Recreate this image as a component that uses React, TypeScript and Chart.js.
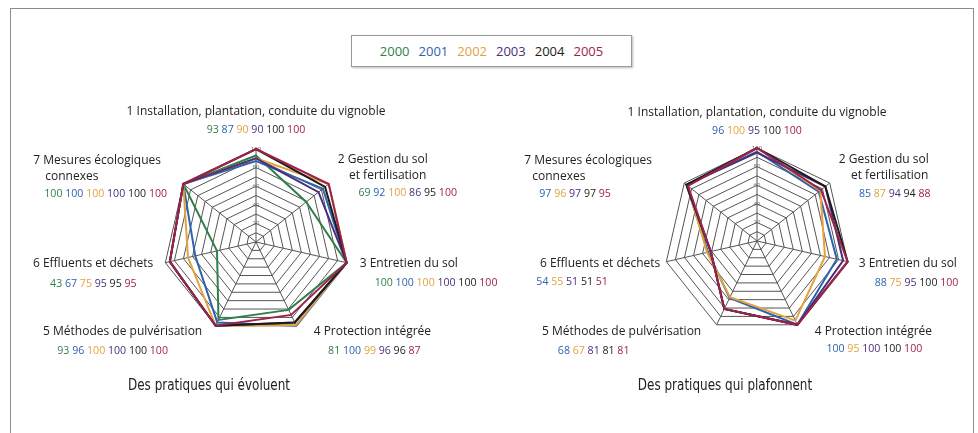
import React, { useEffect, useRef } from "react";
import { Chart, registerables } from "chart.js";

Chart.register(...registerables);

// ---------- DATA ----------
const axisTitles: string[][] = [
  ["1 Installation, plantation, conduite du vignoble"],
  ["2 Gestion du sol", "et fertilisation"],
  ["3 Entretien du sol"],
  ["4 Protection intégrée"],
  ["5 Méthodes de pulvérisation"],
  ["6 Effluents et déchets"],
  ["7 Mesures écologiques", "connexes"],
];

const years = ["2000", "2001", "2002", "2003", "2004", "2005"];

// "Des pratiques qui évoluent" (2000-2005)
const evo2000 = [93, 69, 100, 81, 93, 43, 100];
const evo2001 = [87, 92, 100, 100, 96, 67, 100];
const evo2002 = [90, 100, 100, 99, 100, 75, 100];
const evo2003 = [90, 86, 100, 96, 100, 95, 100];
const evo2004 = [100, 95, 100, 96, 100, 95, 100];
const evo2005 = [100, 100, 100, 87, 100, 95, 100];

// "Des pratiques qui plafonnent" (2001-2005)
const pla2001 = [96, 85, 88, 100, 68, 54, 97];
const pla2002 = [100, 87, 75, 95, 67, 55, 96];
const pla2003 = [95, 94, 95, 100, 81, 51, 97];
const pla2004 = [100, 94, 100, 100, 81, 51, 97];
const pla2005 = [100, 88, 100, 100, 81, 51, 95];

const titleLeft = "Des pratiques qui évoluent";
const titleRight = "Des pratiques qui plafonnent";

// ---------- STYLE ----------
const yearColors: Record<string, string> = {
  "2000": "#2f7f4a",
  "2001": "#2d62ad",
  "2002": "#e2a23c",
  "2003": "#4a2f7c",
  "2004": "#1c1c1c",
  "2005": "#a0224a",
};

const FONT = "'Open Sans', 'DejaVu Sans', sans-serif";
const NARROW = "'Liberation Sans Narrow', 'Arial Narrow', 'DejaVu Sans Condensed', sans-serif";

type LineSpec = { dx: number; dy: number; align: CanvasTextAlign };
type AxisLayout = { title: LineSpec[]; nums: LineSpec };

const layoutLeft: AxisLayout[] = [
  { title: [{ dx: 0, dy: -37, align: "center" }], nums: { dx: 0, dy: -19, align: "center" } },
  { title: [{ dx: 54, dy: -24, align: "center" }, { dx: 59, dy: -8, align: "center" }], nums: { dx: 79, dy: 9, align: "center" } },
  { title: [{ dx: 13, dy: 1, align: "left" }], nums: { dx: 28, dy: 20, align: "left" } },
  { title: [{ dx: 76, dy: 6, align: "center" }], nums: { dx: 78, dy: 25, align: "center" } },
  { title: [{ dx: -93, dy: 6, align: "center" }], nums: { dx: -103, dy: 25, align: "center" } },
  { title: [{ dx: -12, dy: 1, align: "right" }], nums: { dx: -72, dy: 21, align: "center" } },
  { title: [{ dx: -150, dy: -23, align: "left" }, { dx: -138, dy: -7, align: "left" }], nums: { dx: -139, dy: 10, align: "left" } },
];

const layoutRight: AxisLayout[] = [
  { title: [{ dx: 0, dy: -35, align: "center" }], nums: { dx: 0, dy: -17, align: "center" } },
  { title: [{ dx: 54, dy: -23, align: "center" }, { dx: 60, dy: -7, align: "center" }], nums: { dx: 65, dy: 11, align: "center" } },
  { title: [{ dx: 11, dy: 2, align: "left" }], nums: { dx: 27, dy: 21, align: "left" } },
  { title: [{ dx: 76, dy: 7, align: "center" }], nums: { dx: 77, dy: 24, align: "center" } },
  { title: [{ dx: -95, dy: 7, align: "center" }], nums: { dx: -123, dy: 26, align: "center" } },
  { title: [{ dx: -6, dy: 2, align: "right" }], nums: { dx: -130, dy: 20, align: "left" } },
  { title: [{ dx: -160, dy: -22, align: "left" }, { dx: -152, dy: -6, align: "left" }], nums: { dx: -145, dy: 11, align: "left" } },
];

function makeLabelPlugin(layout: AxisLayout[]) {
  return {
    id: "axisLabels",
    afterDraw(chart: any) {
      const ctx: CanvasRenderingContext2D = chart.ctx;
      const scale = chart.scales.r;
      const ds = chart.data.datasets;
      ctx.save();
      ctx.textBaseline = "middle";
      axisTitles.forEach((lines, i) => {
        const v = scale.getPointPosition(i, scale.drawingArea);
        const lay = layout[i];
        ctx.font = `12px ${FONT}`;
        ctx.fillStyle = "#222";
        lines.forEach((txt, li) => {
          const s = lay.title[li];
          ctx.textAlign = s.align;
          ctx.fillText(txt, v.x + s.dx, v.y + s.dy);
        });
        // colored values
        ctx.font = `10.6px ${FONT}`;
        const parts = ds.map((d: any) => ({ t: String(d.data[i]), c: d.borderColor }));
        const sp = ctx.measureText(" ").width;
        const total =
          parts.reduce((a: number, p: any) => a + ctx.measureText(p.t).width, 0) + sp * (parts.length - 1);
        const n = lay.nums;
        let x = v.x + n.dx;
        if (n.align === "center") x -= total / 2;
        else if (n.align === "right") x -= total;
        ctx.textAlign = "left";
        parts.forEach((p: any) => {
          ctx.fillStyle = p.c;
          ctx.fillText(p.t, x, v.y + n.dy);
          x += ctx.measureText(p.t).width + sp;
        });
      });
      ctx.restore();
    },
  };
}

function RadarCanvas(props: {
  left: number;
  width: number;
  series: number[][];
  seriesYears: string[];
  padding: { left: number; right: number; top: number; bottom: number };
  layout: AxisLayout[];
}) {
  const ref = useRef<HTMLCanvasElement>(null);
  useEffect(() => {
    if (!ref.current) return;
    const n = props.series.length;
    const chart = new Chart(ref.current, {
      type: "radar",
      data: {
        labels: axisTitles.map((l) => l.join(" ")),
        datasets: props.series.map((s, k) => ({
          label: props.seriesYears[k],
          data: s,
          borderColor: yearColors[props.seriesYears[k]],
          backgroundColor: "transparent",
          borderWidth: 2,
          pointRadius: 0,
          fill: false,
          order: n - k,
        })),
      },
      options: {
        responsive: false,
        animation: false,
        devicePixelRatio: 1,
        layout: { padding: props.padding },
        plugins: { legend: { display: false }, tooltip: { enabled: false } },
        scales: {
          r: {
            min: 0,
            max: 100,
            ticks: {
              stepSize: 10,
              showLabelBackdrop: false,
              backdropPadding: 0,
              color: "#666",
              font: { size: 6, family: FONT },
              callback: (v: any) => (Number(v) % 20 === 0 ? String(v) : ""),
            },
            grid: { color: "#555", lineWidth: 1 },
            angleLines: { color: "#555", lineWidth: 1 },
            pointLabels: { display: false },
          },
        },
      },
      plugins: [makeLabelPlugin(props.layout)],
    });
    return () => chart.destroy();
  }, []);
  return (
    <canvas
      ref={ref}
      width={props.width}
      height={433}
      style={{ position: "absolute", left: props.left, top: 0, width: props.width, height: 433 }}
    />
  );
}

const titleStyle: React.CSSProperties = {
  position: "absolute",
  top: 376,
  width: 240,
  textAlign: "center",
  fontFamily: NARROW,
  fontSize: 15.5,
  color: "#222",
  transform: "scaleX(0.86)",
  transformOrigin: "center",
};

export default function App() {
  return (
    <div style={{ position: "absolute", left: 0, top: 0, width: 978, height: 433, background: "#fff", overflow: "hidden" }}>
      <div
        style={{
          position: "absolute",
          left: 10,
          top: 8,
          width: 964,
          height: 460,
          border: "1px solid #8c8c8c",
          boxSizing: "border-box",
        }}
      />
      <div
        style={{
          position: "absolute",
          left: 351,
          top: 35,
          width: 281,
          height: 32,
          border: "1px solid #9a9a9a",
          boxShadow: "1px 1px 2px #bbb",
          boxSizing: "border-box",
          display: "flex",
          alignItems: "center",
          justifyContent: "center",
          gap: 9,
          fontFamily: FONT,
          fontSize: 13,
        }}
      >
        {years.map((y) => (
          <span key={y} style={{ color: yearColors[y] }}>
            {y}
          </span>
        ))}
      </div>
      <RadarCanvas
        left={0}
        width={540}
        series={[evo2000, evo2001, evo2002, evo2003, evo2004, evo2005]}
        seriesYears={years}
        padding={{ left: 160, right: 188, top: 145, bottom: 93 }}
        layout={layoutLeft}
      />
      <RadarCanvas
        left={489}
        width={489}
        series={[pla2001, pla2002, pla2003, pla2004, pla2005]}
        seriesYears={years.slice(1)}
        padding={{ left: 172, right: 125, top: 144, bottom: 94 }}
        layout={layoutRight}
      />
      <div style={{ ...titleStyle, left: 89 }}>{titleLeft}</div>
      <div style={{ ...titleStyle, left: 605 }}>{titleRight}</div>
    </div>
  );
}
